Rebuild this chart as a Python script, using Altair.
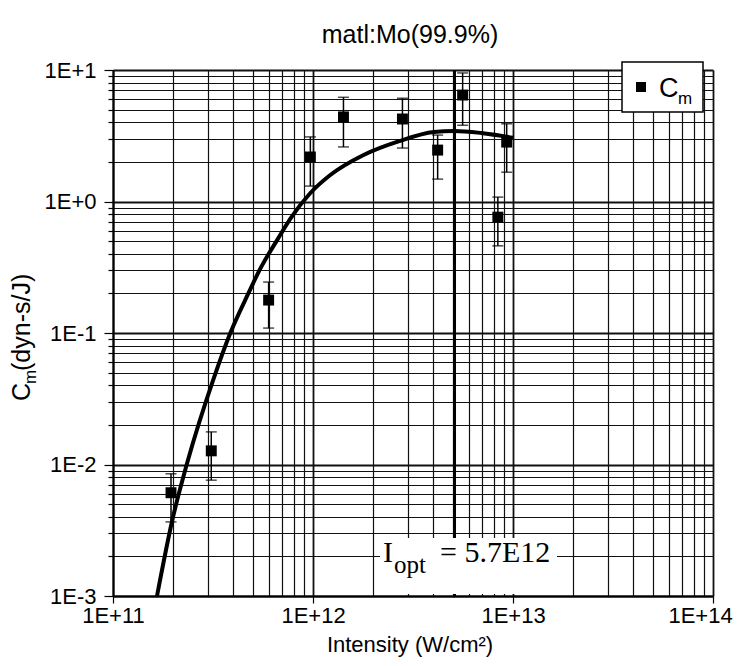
import altair as alt
import pandas as pd

# ---- data ----
pt_x = [1.95e11, 3.1e11, 6.0e11, 9.7e11, 1.42e12, 2.8e12, 4.2e12, 5.6e12, 8.4e12, 9.3e12]
pt_y = [6.1e-3, 1.27e-2, 0.178, 2.18, 4.4, 4.24, 2.46, 6.45, 0.76, 2.83]
err_hi = [8.5e-3, 1.77e-2, 0.244, 3.1, 6.2, 6.1, 3.2, 9.5, 1.08, 3.9]
err_lo = [3.66e-3, 7.6e-3, 0.109, 1.31, 2.6, 2.55, 1.48, 3.8, 0.46, 1.67]

fit_x = [1.66e11, 1.98e11, 2.35e11, 3.17e11, 3.86e11, 4.75e11, 5.46e11, 6.64e11,
         7.71e11, 9.7e11, 1.22e12, 1.79e12, 2.7e12, 4.02e12, 5.06e12, 6.92e12, 1.0e13]
fit_y = [1e-3, 3.78e-3, 1.03e-2, 4.4e-2, 0.1, 0.2, 0.31, 0.513,
         0.741, 1.16, 1.59, 2.26, 2.88, 3.38, 3.44, 3.32, 3.05]

i_opt_line = [5.1e12]

x_ticks = [m * 10.0 ** d for d in range(11, 14) for m in range(1, 10)] + [1e14]
y_ticks = [m * 10.0 ** d for d in range(-3, 1) for m in range(1, 10)] + [10.0]

title_text = "matl:Mo(99.9%)"
x_title = "Intensity (W/cm²)"

SANS = "Liberation Sans, Arial, sans-serif"
SERIF = "Liberation Serif, Times New Roman, serif"

pts = pd.DataFrame({"x": pt_x, "y": pt_y, "hi": err_hi, "lo": err_lo})
fit = pd.DataFrame({"x": fit_x, "y": fit_y})
vline = pd.DataFrame({"x": i_opt_line})

MAJOR = "abs(log(datum.value)/LN10 - round(log(datum.value)/LN10)) < 0.001"
LABEL = ("(" + MAJOR + ") ? ('1E' + (round(log(datum.value)/LN10) >= 0 ? '+' : '') + "
         "round(log(datum.value)/LN10)) : ''")

xscale = alt.Scale(type="log", domain=[1e11, 1e14], nice=False)
yscale = alt.Scale(type="log", domain=[1e-3, 10], nice=False)

xaxis = alt.Axis(values=x_ticks, labelExpr=LABEL, title=None, grid=True,
                 gridColor="#111", gridOpacity=1,
                 gridWidth={"condition": {"test": MAJOR, "value": 1.8}, "value": 1.2},
                 tickSize={"condition": {"test": MAJOR, "value": 7}, "value": 0},
                 tickColor="#000", tickWidth=1.2, domainColor="#000", domainWidth=2,
                 labelFont=SANS, labelFontSize=22, labelColor="#000", labelPadding=2,
                 labelOffset={"condition": {"test": "datum.value > 5e13", "value": -13}, "value": 0},
                 labelFlush=False, labelOverlap=False)
yaxis = alt.Axis(values=y_ticks, labelExpr=LABEL, title=None, grid=True,
                 gridColor="#111", gridOpacity=1,
                 gridWidth={"condition": {"test": MAJOR, "value": 1.8}, "value": 1.2},
                 tickSize={"condition": {"test": MAJOR, "value": 9}, "value": 5},
                 tickColor="#000", tickWidth=1.2, domainColor="#000", domainWidth=2,
                 labelFont=SANS, labelFontSize=22, labelColor="#000", labelPadding=8,
                 labelOverlap=False, labelFlush=False)

base_x = alt.X("x:Q", scale=xscale, axis=xaxis)
base_y = alt.Y("y:Q", scale=yscale, axis=yaxis)

curve = alt.Chart(fit).mark_line(color="#000", strokeWidth=4, interpolate="monotone").encode(
    x=base_x, y=base_y)

opt_rule = alt.Chart(vline).mark_rule(color="#000", strokeWidth=3).encode(
    x=alt.X("x:Q", scale=xscale), y=alt.value(0), y2=alt.value(526))

bars = alt.Chart(pts).mark_rule(color="#000", strokeWidth=1.5).encode(
    x=alt.X("x:Q", scale=xscale), y=alt.Y("lo:Q", scale=yscale), y2="hi:Q")
cap_hi = alt.Chart(pts).mark_tick(color="#000", thickness=1.5, size=11, orient="horizontal").encode(
    x=alt.X("x:Q", scale=xscale), y=alt.Y("hi:Q", scale=yscale))
cap_lo = alt.Chart(pts).mark_tick(color="#000", thickness=1.5, size=11, orient="horizontal").encode(
    x=alt.X("x:Q", scale=xscale), y=alt.Y("lo:Q", scale=yscale))
points = alt.Chart(pts).mark_point(shape="square", filled=True, color="#000", opacity=1, size=120).encode(
    x=alt.X("x:Q", scale=xscale), y=alt.Y("y:Q", scale=yscale))

one = pd.DataFrame({"k": [0]})

def box(x1, x2, y1, y2, stroke=None, sw=0):
    kw = dict(fill="white")
    if stroke:
        kw.update(stroke=stroke, strokeWidth=sw)
    return alt.Chart(one).mark_rect(**kw).encode(
        x=alt.value(x1), x2=alt.value(x2), y=alt.value(y1), y2=alt.value(y2))

def txt(s, x, y, size, font=SANS, align="left", baseline="alphabetic", angle=0):
    kw = dict(text=s, font=font, fontSize=size, color="#000", align=align, baseline=baseline)
    if angle:
        kw["angle"] = angle
    return alt.Chart(one).mark_text(**kw).encode(x=alt.value(x), y=alt.value(y))

# legend box
legend_box = box(509, 590, -8, 42, stroke="#000", sw=1.5)
legend_sq = alt.Chart(one).mark_point(shape="square", filled=True, color="#000", opacity=1, size=100).encode(
    x=alt.value(528), y=alt.value(17))
legend_c = txt("C", 546, 27, 27)
legend_m = txt("m", 565, 34, 17)

# I_opt annotation
opt_box = box(267, 444, 468, 524)
opt_i = txt("I", 270, 492, 30, font=SERIF)
opt_sub = txt("opt", 281, 503, 25, font=SERIF)
opt_val = txt("= 5.7E12", 327, 492, 30, font=SERIF)

# titles
title = txt(title_text, 297, -35, 25, align="center", baseline="middle")
xt = txt(x_title, 297, 575, 22, align="center", baseline="middle")
yt_c = txt("C", -83, 331, 25, angle=270)
yt_m = txt("m", -77, 314, 17, angle=270)
yt_rest = txt("(dyn-s/J)", -83, 301, 25, angle=270)

chart = alt.layer(
    curve, opt_rule, bars, cap_hi, cap_lo, points,
    legend_box, legend_sq, legend_c, legend_m,
    opt_box, opt_i, opt_sub, opt_val,
    title, xt, yt_c, yt_m, yt_rest,
).properties(
    width=600, height=526,
    autosize=alt.AutoSizeParams(type="none"),
    padding={"left": 105, "top": 62, "right": 21, "bottom": 62},
).configure_view(stroke="#000", strokeWidth=2).configure(background="white")

chart.save("out.html", embed_options={"renderer": "svg", "actions": False})
